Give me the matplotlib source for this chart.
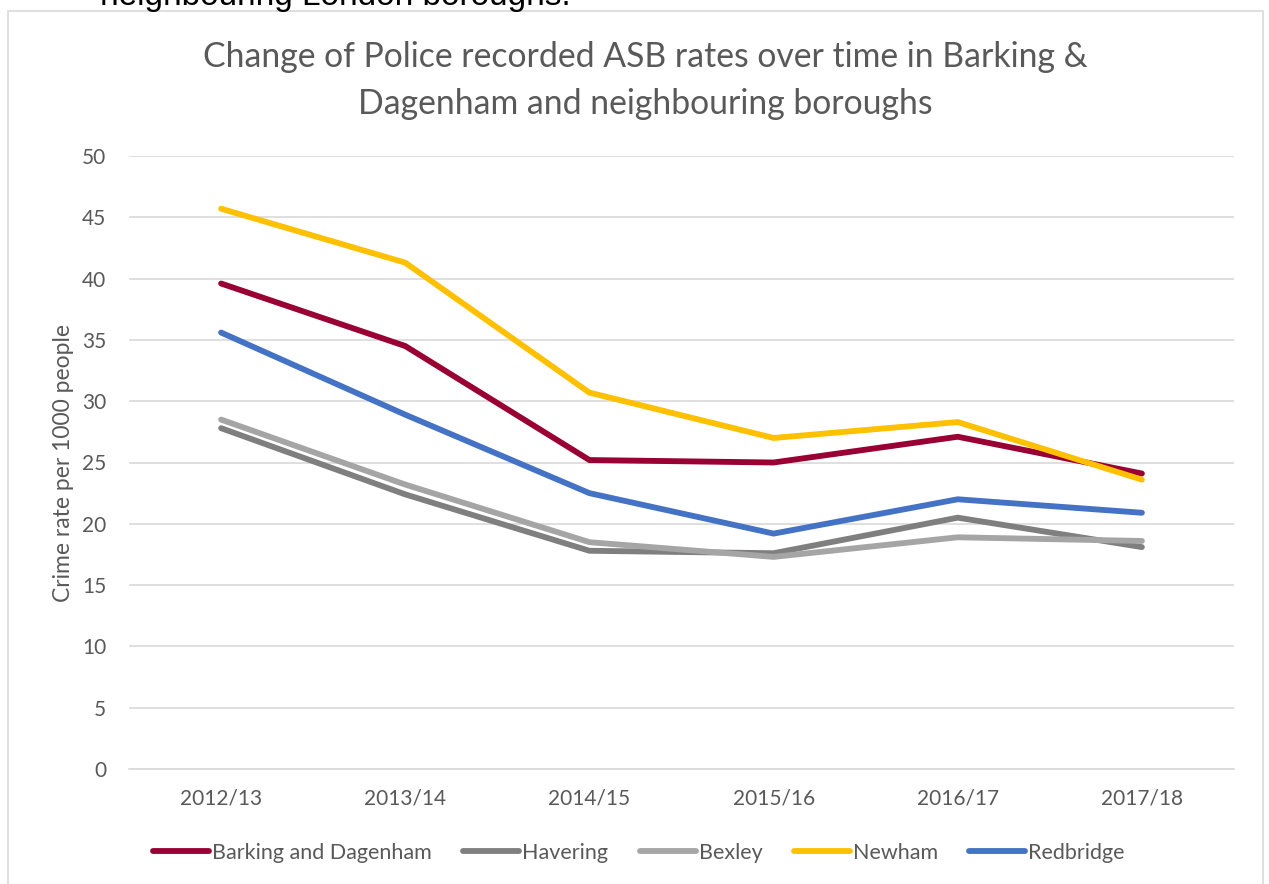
import matplotlib
matplotlib.use("Agg")
import matplotlib.pyplot as plt
from matplotlib.patches import Rectangle

# data
years = ['2012/13', '2013/14', '2014/15', '2015/16', '2016/17', '2017/18']
barking = [39.6, 34.5, 25.2, 25.0, 27.1, 24.1]
havering = [27.8, 22.4, 17.8, 17.6, 20.5, 18.1]
bexley = [28.5, 23.2, 18.5, 17.3, 18.9, 18.6]
newham = [45.7, 41.3, 30.7, 27.0, 28.3, 23.6]
redbridge = [35.6, 28.9, 22.5, 19.2, 22.0, 20.9]

series = [('Barking and Dagenham', barking, '#990033'),
          ('Havering', havering, '#7F7F7F'),
          ('Bexley', bexley, '#A5A5A5'),
          ('Newham', newham, '#FFC000'),
          ('Redbridge', redbridge, '#4472C4')]

grey = '#595959'
plt.rcParams['font.family'] = ['Lato', 'DejaVu Sans']

fig = plt.figure(figsize=(12.69, 8.84), dpi=100)
W, H = 1269, 884

# text of the page above the chart box (cut off at the top, as in the source)
fig.text(100/W, 1 - 5/H, 'neighbouring London boroughs.', fontsize=24,
         family=['Liberation Sans'], color='black', va='baseline', ha='left')

# chart border
fig.patches.append(Rectangle((8/W, -0.01), (1263-8)/W, 1.01 - 11/H,
                             transform=fig.transFigure, fill=False,
                             edgecolor='#D9D9D9', linewidth=1.2))

ax = fig.add_axes([129/W, 1 - 769/H, (1234-129)/W, (769-156)/H])
x = list(range(len(years)))
for name, vals, col in series:
    ax.plot(x, vals, color=col, linewidth=4.2, label=name,
            solid_capstyle='round', solid_joinstyle='miter')

ax.set_xlim(-0.5, len(years) - 0.5)
ax.set_ylim(0, 50)
ax.set_yticks(range(0, 51, 5))
ax.set_xticks(x)
ax.set_xticklabels(years)
ax.grid(axis='y', color='#D9D9D9', linewidth=1.2)
ax.set_axisbelow(True)
for s in ['top', 'right', 'left']:
    ax.spines[s].set_visible(False)
ax.spines['bottom'].set_color('#D9D9D9')
ax.spines['bottom'].set_linewidth(1.2)
ax.tick_params(axis='both', length=0, labelsize=15, colors=grey)
ax.tick_params(axis='y', pad=16.5)
ax.tick_params(axis='x', pad=14)
ax.set_ylabel('Crime rate per 1000 people', fontsize=16.5, color=grey,
              labelpad=6)

fig.text(645/W, 1 - 57/H,
         'Change of Police recorded ASB rates over time in Barking &',
         fontsize=24.3, color=grey, ha='center', va='center')
fig.text(645/W, 1 - 104/H, 'Dagenham and neighbouring boroughs',
         fontsize=24.3, color=grey, ha='center', va='center')

leg = fig.legend(loc='center', bbox_to_anchor=(639/W, 1 - 853/H), ncol=5,
                 frameon=False, fontsize=15.5, handlelength=2.6,
                 handletextpad=0.15, columnspacing=1.45)
for t in leg.get_texts():
    t.set_color(grey)

fig.savefig('out.png', dpi=100)
